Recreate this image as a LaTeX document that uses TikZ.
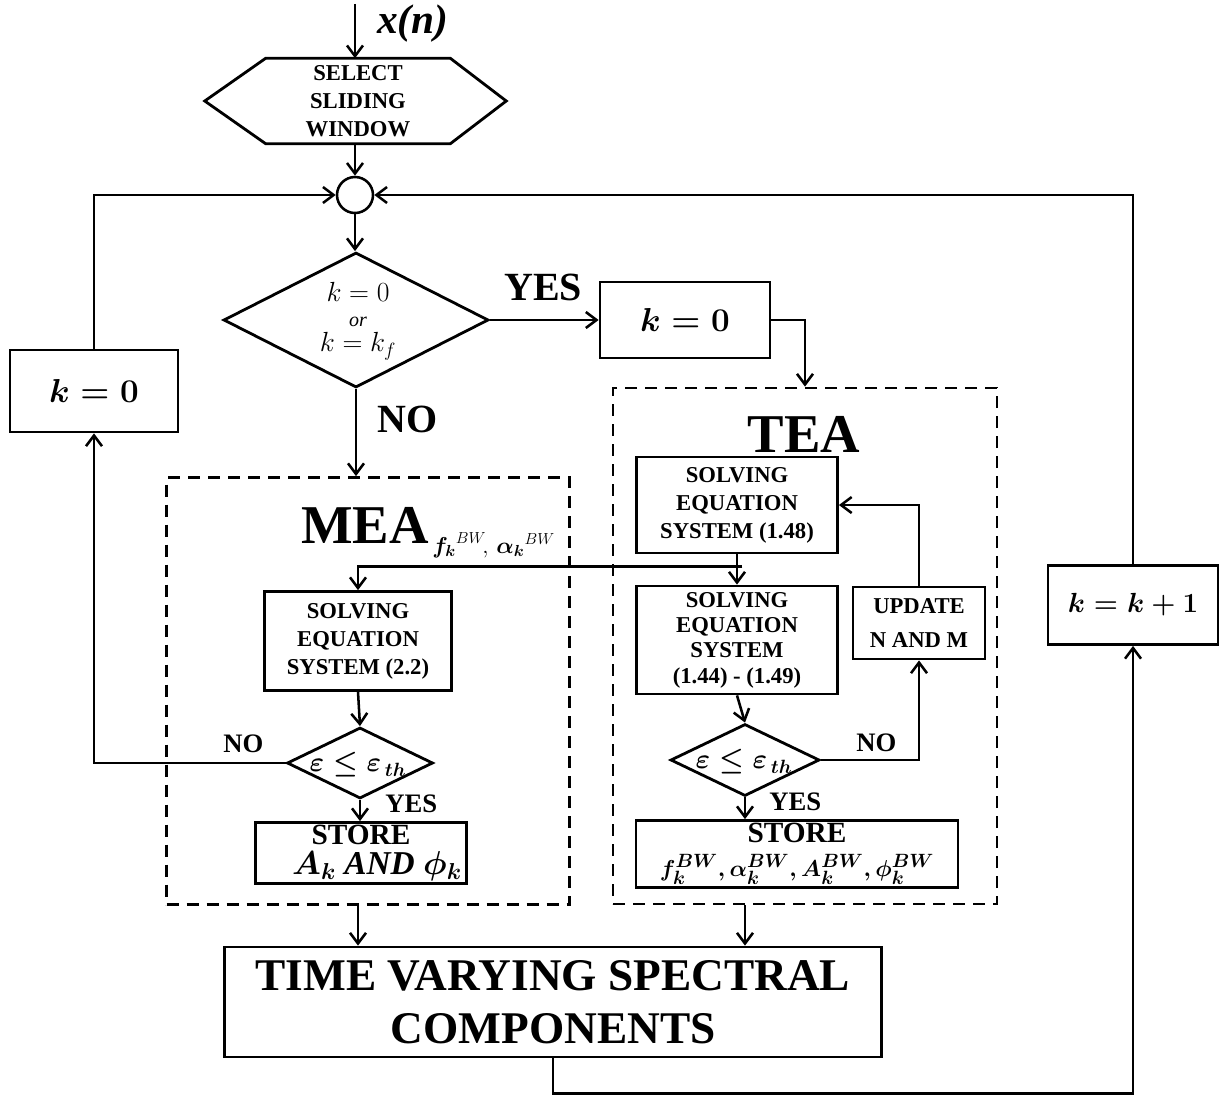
\documentclass[tikz,border=0pt]{standalone}
\usepackage[no-math]{fontspec}
\setmainfont{Liberation Serif}
\usepackage{amsmath}
\usetikzlibrary{arrows.meta,shapes.geometric,calc}
\newcommand\fs[2]{\fontsize{#1}{#2}\selectfont}
\begin{document}
\begin{tikzpicture}[x=0.75pt,y=-0.75pt,
  line width=1.9pt,
  wh/.style 2 args={minimum width=#1*0.75pt,minimum height=#2*0.75pt},
  arr/.style={-{Straight Barb[length=8pt,width=12pt]}},
  box/.style={draw,line width=2.1pt,inner sep=0pt,align=center,font=\bfseries\fs{17}{21}},
  kbox/.style={draw,line width=2.1pt,inner sep=0pt},
  dbox/.style={draw,line width=2.1pt,dash pattern=on 9pt off 6pt,inner sep=0pt},
  lbl/.style={font=\bfseries\fs{30}{30},inner sep=0pt},
  slbl/.style={font=\bfseries\fs{20}{20},inner sep=0pt},
  dia/.style={draw,shape=diamond,line width=2.1pt,inner sep=0pt},
  eps/.style={inner sep=0pt,font=\fs{21}{21}}
]
\useasboundingbox (0,0) rectangle (1220,1099);
% input
\coordinate (xin) at (355,4);
\node[inner sep=0pt,anchor=base west,font=\bfseries\itshape\fs{31}{31}] (xn) at (376,34) {x(n)};
\node[inner sep=0pt,wh={182}{83},align=center,font=\bfseries\fs{17}{21}] (hex) at (358,101) {SELECT\\SLIDING\\WINDOW};
\draw[line width=2.1pt] (hex.north west) -- (hex.north east) -- ($(hex.east)+(56,0)$) -- (hex.south east) -- (hex.south west) -- ($(hex.west)+(-61,0)$) -- cycle;
\draw[arr] (xin) -- (xin |- hex.north);
\node[circle,draw,minimum size=27pt,inner sep=0pt,line width=1.9pt] (circ) at (355,195) {};
\draw[arr] (hex.south -| circ.north) -- (circ.north);
% first decision
\node[dia,wh={265}{135}] (dec) at (356,320) {};
\node[inner sep=0pt,align=center,font={\fs{22}{19}\lineskiplimit=-30pt\relax\lineskip=0pt\relax}] (dect) at (358,321) {$k=0$\\{\fs{15}{19}\itshape or}\\$k=k_f$};
\draw[arr] (circ.south) -- (circ.south |- dec.north);
\node[lbl,anchor=base west] (yes1) at (503,300) {YES};
\node[kbox,wh={170}{76},font=\fs{33}{33}] (kR) at (685,320) {$\boldsymbol{k=0}$};
\draw[arr] (dec.east) -- (kR.west);
% TEA container
\node[dbox,wh={384}{516}] (tea) at (805,646) {};
\draw[arr] (kR.east) -| (tea.north);
\node[lbl,anchor=base west] (no1) at (376,432) {NO};
% MEA container
\node[dbox,wh={403}{427}] (mea) at (368,691) {};
\draw[arr] (dec.south) -- (dec.south |- mea.north);
\node[anchor=base east,inner sep=0pt,font=\bfseries\fs{41}{41}] (meat) at (430,543) {MEA};
\node[anchor=base west,inner sep=0pt,font=\fs{18}{18}] (meas) at (431,553) {$\boldsymbol{f_k}^{BW}\!,\, \boldsymbol{\alpha_k}^{BW}$};
\node[anchor=base,inner sep=0pt,font=\bfseries\fs{41}{41}] (teat) at (804,452) {TEA};
% TEA boxes
\node[box,wh={201}{96}] (ts1) at (737,505) {SOLVING\\EQUATION\\SYSTEM (1.48)};
\node[box,wh={201}{108},font=\bfseries\fs{17}{19}] (ts2) at (737,640) {SOLVING\\EQUATION\\SYSTEM\\(1.44) - (1.49)};
\node[box,wh={132}{72},font=\bfseries\fs{17}{25}] (upd) at (919,623) {UPDATE\\N AND M};
\path (ts1.south) ++(0,12) coordinate (br);
\draw[arr] (ts1.south) -- (ts2.north);
% MEA boxes
\node[box,wh={187}{99}] (ms) at (358,641) {SOLVING\\EQUATION\\SYSTEM (2.2)};
\draw[arr] ([xshift=4pt]br) -| (ms.north);
\node[dia,wh={146}{71}] (md) at (360,763) {};
\node[eps] (mdt) at (358,765) {$\boldsymbol{\varepsilon\le\varepsilon_{\,th}}$};
\draw[arr] (ms.south) -- (md.north);
\node[box,wh={211}{61},font=\bfseries\fs{22}{23}] (mst) at (361,853) {STORE\\{\fs{25}{23}\hspace*{24pt}$\boldsymbol{A_k}$ \textit{AND} $\boldsymbol{\phi_k}$}};
\draw[arr] (md.south) -- (md.south |- mst.north);
\node[slbl,anchor=base west] (yes2) at (384,812) {YES};
\node[slbl,anchor=base west] (no2) at (222,752) {NO};
\node[kbox,wh={168}{82},font=\fs{33}{33}] (kL) at (94,391) {$\boldsymbol{k=0}$};
\draw[arr] (md.west) -| (kL.south);
\draw[arr] (kL.north) |- (circ.west);
% TEA decision
\node[dia,wh={149}{72}] (td) at (745,760) {};
\node[eps] (tdt) at (744,762) {$\boldsymbol{\varepsilon\le\varepsilon_{\,th}}$};
\draw[arr] (ts2.south) -- (td.north);
\draw[arr] (td.east) -| (upd.south);
\draw[arr] (upd.north) |- (ts1.east);
\node[slbl,anchor=base west] (no3) at (855,751) {NO};
\node[slbl,anchor=base west] (yes3) at (768,810) {YES};
\node[box,wh={322}{67},font=\bfseries\fs{22}{25}] (tst) at (797,854) {STORE\\{\fs{19}{25}$\boldsymbol{f_k^{BW}, \alpha_k^{BW}, A_k^{BW}, \phi_k^{BW}}$}};
\draw[arr] (td.south) -- (td.south |- tst.north);
% output
\node[box,wh={657}{110},font=\bfseries\fs{34}{40}] (tv) at (553,1002) {TIME VARYING SPECTRAL\\COMPONENTS};
\draw[arr] (ms.south |- mea.south) -- (ms.south |- tv.north);
\draw[arr] (td.south |- tea.south) -- (td.south |- tv.north);
\node[kbox,wh={170}{79},font=\fs{20}{20}] (ki) at (1133,605) {$\boldsymbol{k=k+1}$};
\draw[arr] (ki.north) |- (circ.east);
\draw[arr] (tv.south) -- ++(0,35) -| (ki.south);
\end{tikzpicture}
\end{document}
